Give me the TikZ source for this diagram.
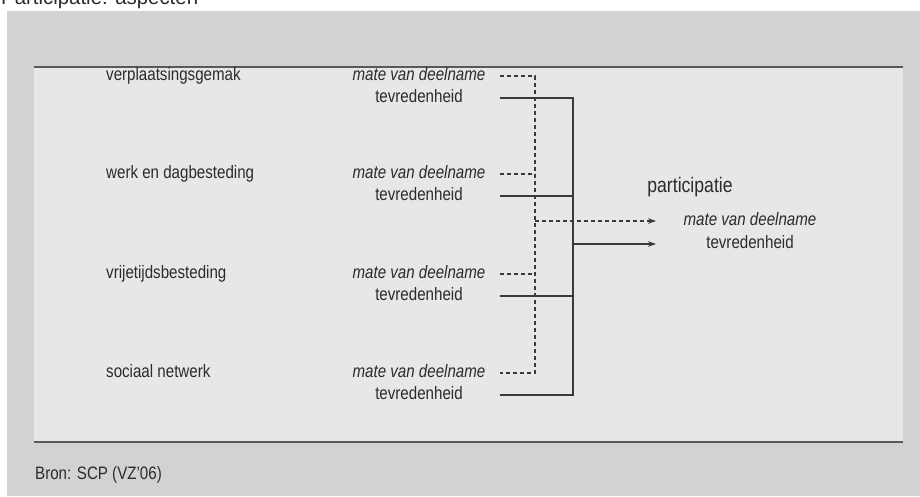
\documentclass[tikz,border=0pt]{standalone}
\usepackage{fontspec}
\setmainfont[FakeStretch=0.84]{Liberation Sans}
\newfontfamily\titlefont{Liberation Sans}
\usepackage{xcolor}
\usetikzlibrary{arrows.meta}
\definecolor{panelgray}{HTML}{D1D2D4}
\definecolor{innergray}{HTML}{E6E7E8}
\definecolor{rulegray}{HTML}{58585A}
\definecolor{linegray}{HTML}{3A3A3C}
\definecolor{textgray}{HTML}{2B2B2D}

\tikzset{
  lbl/.style={inner sep=0pt, text height=13pt, text depth=3.5pt, text=textgray, font=\fontsize{18}{20}\selectfont},
  matelbl/.style={lbl, font=\fontsize{18}{20}\selectfont\itshape},
  dashline/.style={linegray, line width=1.1pt, dash pattern=on 4pt off 3pt},
  solidline/.style={linegray, line width=1.3pt}
}

\begin{document}
\begin{tikzpicture}[x=1pt, y=-1pt, >={Stealth[length=8pt,width=5.5pt]}]
  \useasboundingbox (0,0) rectangle (920,497);
  \fill[panelgray] (7,11) rectangle (920,496);
  \fill[innergray] (34,67) rectangle (903,442);
  \draw[rulegray, line width=2pt] (34,67) -- (903,67);
  \draw[rulegray, line width=2pt] (34,442) -- (903,442);

  \node[anchor=base west, inner sep=0pt, text=textgray, font=\titlefont\fontsize{20.4}{24}\selectfont] (titel) at (1,5) {Participatie: aspecten};

  \coordinate (lstart) at (500,0);
  \coordinate (dbus) at (535,0);
  \coordinate (sbus) at (573,0);
  \coordinate (pin) at (656,0);

  \foreach \y/\lab/\n in {76/verplaatsingsgemak/1,174/werk en dagbesteding/2,274/vrijetijdsbesteding/3,373/sociaal netwerk/4}{
    \node[lbl, anchor=west] (aspect\n) at (106,\y) {\lab};
    \node[matelbl] (mate\n) at (419,\y) {mate van deelname};
    \node[lbl] (tevr\n) at (419,\y+22) {tevredenheid};
  }

  \draw[dashline] (mate1 -| lstart) -- (mate1 -| dbus) -- (mate4 -| dbus) -- (mate4 -| lstart);
  \foreach \n in {2,3}{
    \draw[dashline] (mate\n -| lstart) -- (mate\n -| dbus);
  }
  \draw[solidline] (tevr1 -| lstart) -- (tevr1 -| sbus) -- (tevr4 -| sbus) -- (tevr4 -| lstart);
  \foreach \n in {2,3}{
    \draw[solidline] (tevr\n -| lstart) -- (tevr\n -| sbus);
  }

  \node[lbl, text height=15pt, text depth=4pt, font=\fontsize{21}{24}\selectfont] (part) at (690,187) {participatie};
  \node[matelbl] (pmate) at (750,221) {mate van deelname};
  \node[lbl] (ptevr) at (750,244) {tevredenheid};
  \draw[dashline, ->] (pmate -| dbus) -- (pmate -| pin);
  \draw[solidline, ->] (ptevr -| sbus) -- (ptevr -| pin);

  \node[lbl, anchor=west] (bron) at (35,475) {Bron: SCP (VZ'06)};
\end{tikzpicture}
\end{document}
